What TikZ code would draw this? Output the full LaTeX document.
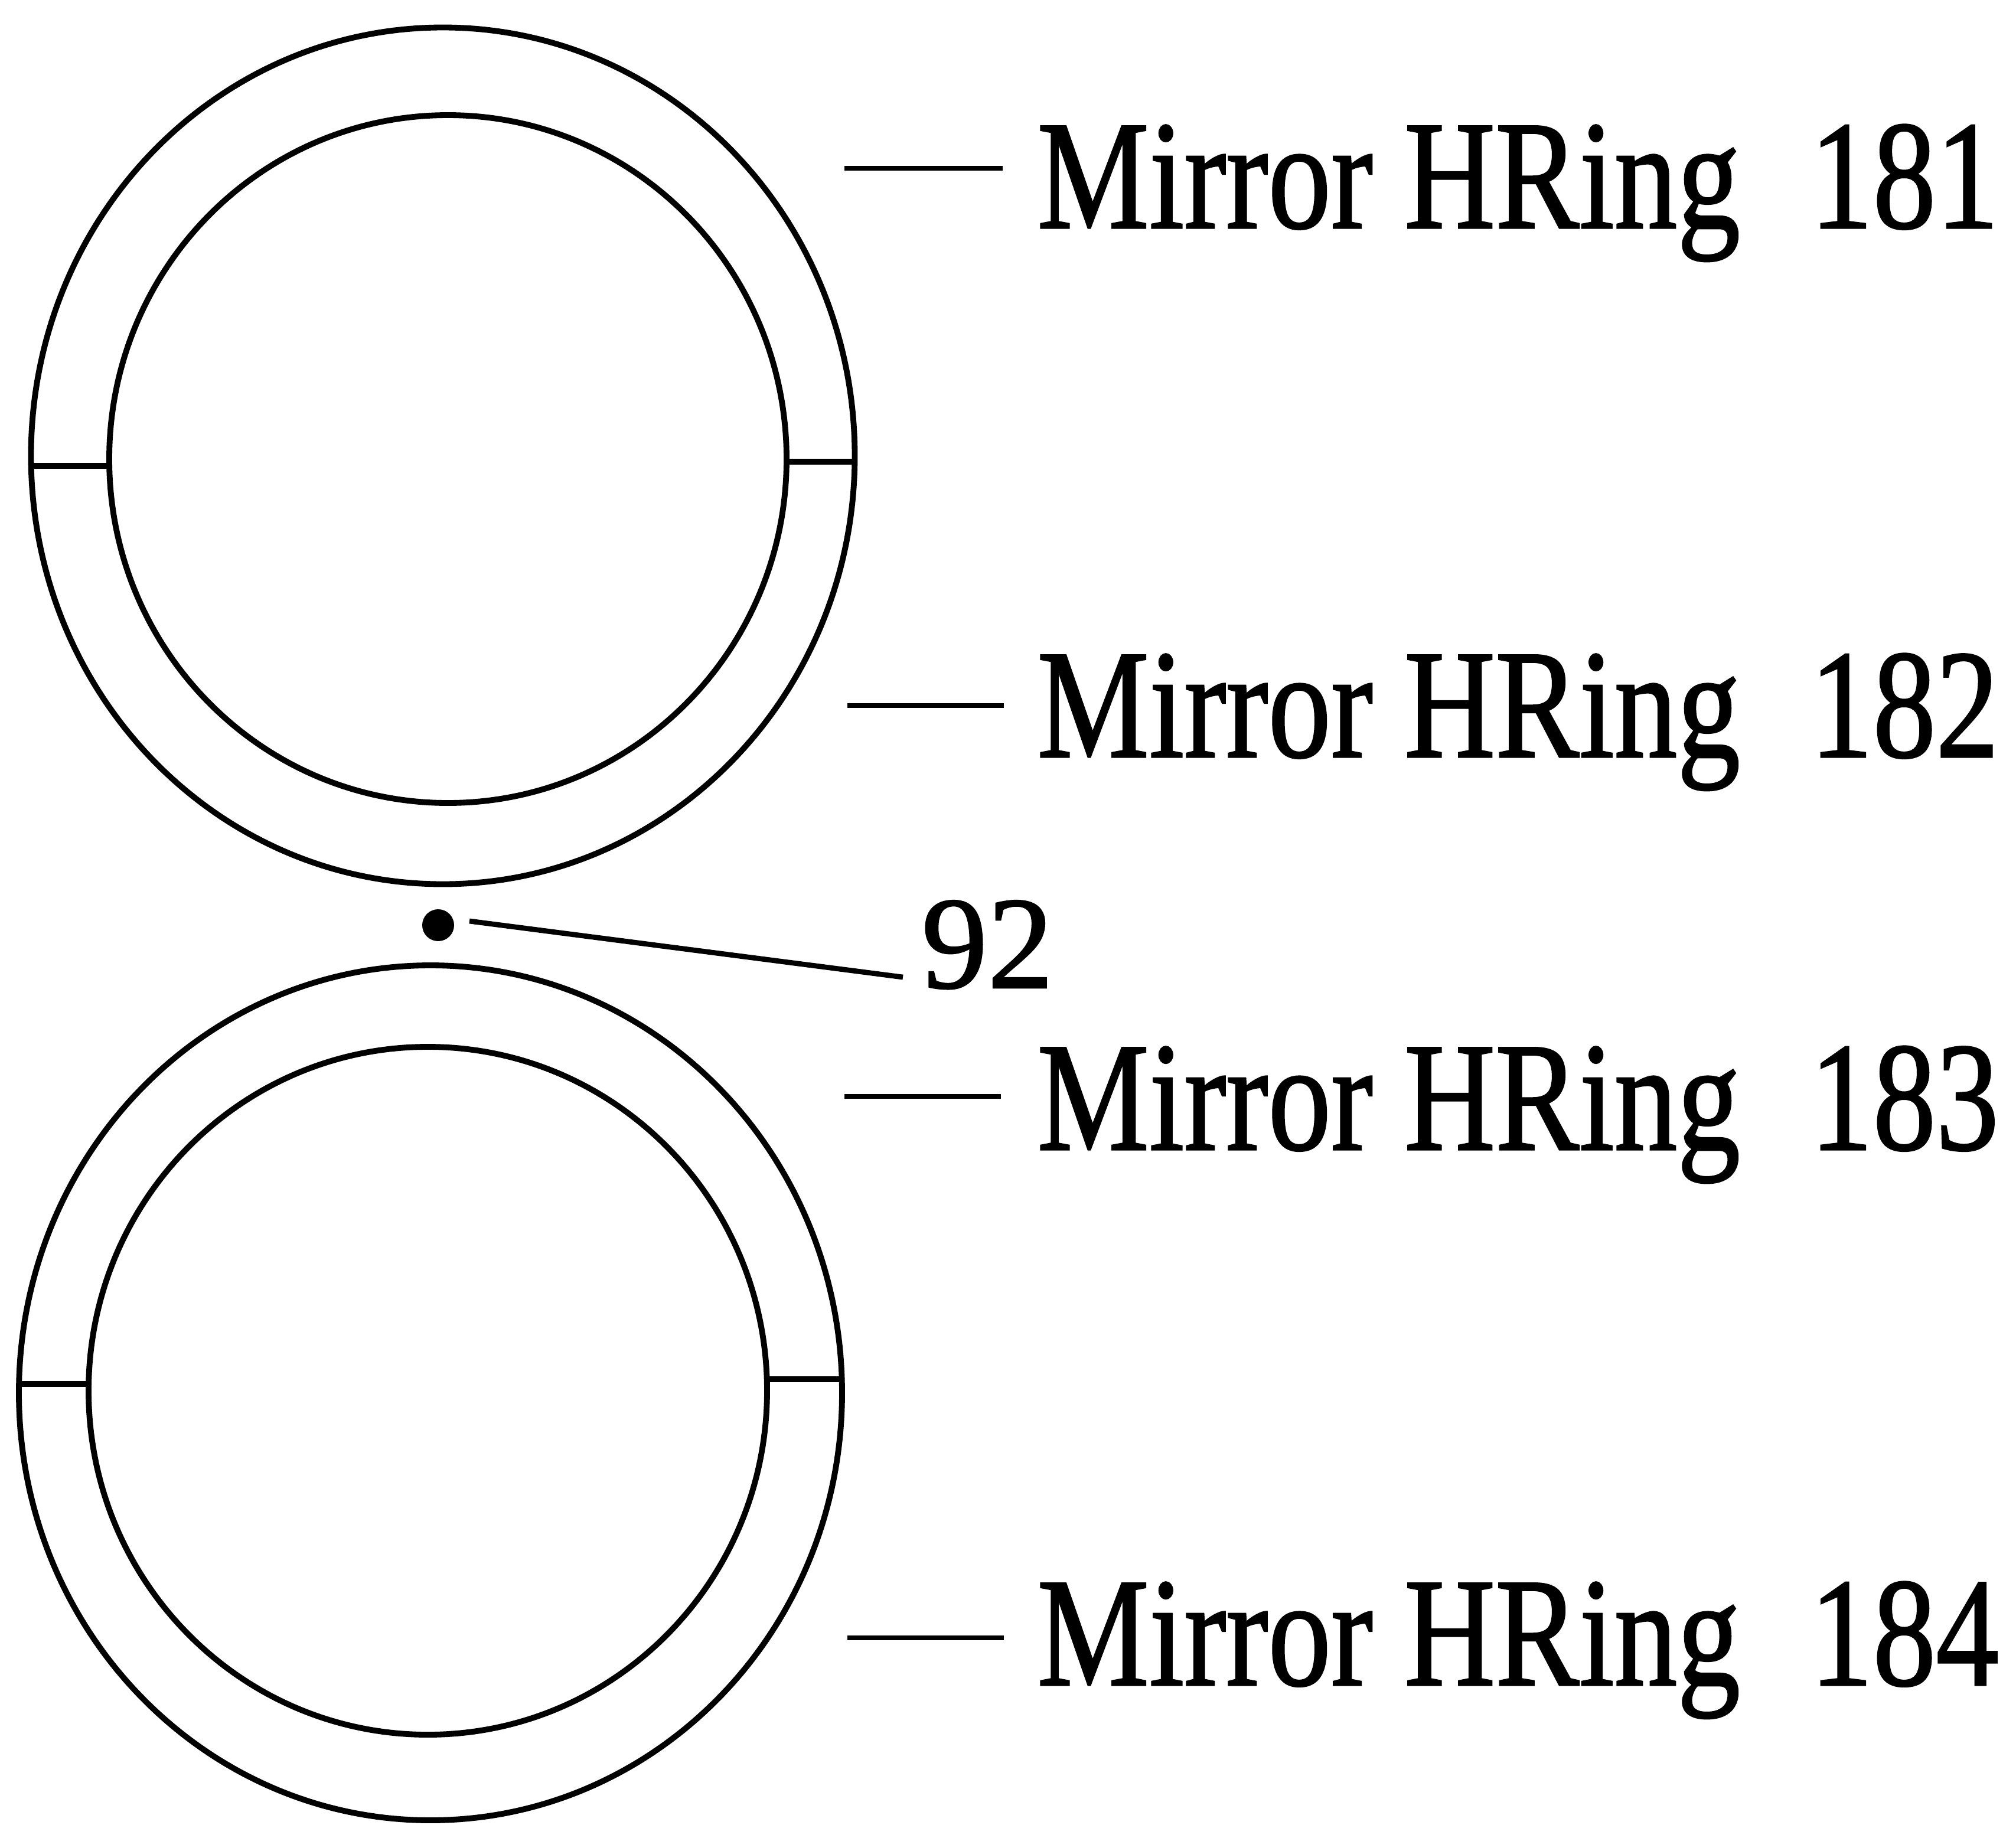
\documentclass[tikz,border=0pt]{standalone}
\usepackage{fontspec}
\setmainfont{Liberation Serif}
\newfontfamily\lblfont[FakeBold=1.2]{Liberation Serif}
\begin{document}
\begin{tikzpicture}[
  ringline/.style={line width=2.8pt},
  leader/.style={line width=2.5pt},
  ringlabel/.style={inner sep=0pt, anchor=base west, xscale=0.81, transform shape,
    font=\lblfont\fontsize{74.9pt}{80pt}\selectfont},
  reflabel/.style={inner sep=0pt, anchor=base west,
    font=\lblfont\fontsize{63.5pt}{70pt}\selectfont}
]
\useasboundingbox (0,0) rectangle (34.14,-30.91);

% top ring
\draw[ringline] (7.50,-7.72) ellipse [x radius=6.975, y radius=7.255];
\draw[ringline] (7.585,-7.775) ellipse [x radius=5.735, y radius=5.825];
\draw[ringline] (0.53,-7.89) -- (1.85,-7.89);
\draw[ringline] (13.32,-7.82) -- (14.48,-7.82);

% bottom ring
\draw[ringline] (7.29,-23.59) ellipse [x radius=6.97, y radius=7.24];
\draw[ringline] (7.245,-23.555) ellipse [x radius=5.745, y radius=5.825];
\draw[ringline] (0.32,-23.44) -- (1.50,-23.44);
\draw[ringline] (12.99,-23.36) -- (14.26,-23.36);

% point 92
\fill (7.42,-15.67) circle [radius=0.27];
\coordinate (p92a) at (7.95,-15.60);
\coordinate (p92b) at (15.29,-16.55);
\draw[leader] (p92a) -- (p92b);
\node[reflabel] (t92) at (15.60,-16.73) {92};

% labels
\coordinate (l1a) at (14.30,-2.85);  \coordinate (l1b) at (16.98,-2.85);
\coordinate (l2a) at (14.35,-11.95); \coordinate (l2b) at (17.00,-11.95);
\coordinate (l3a) at (14.30,-18.57); \coordinate (l3b) at (16.95,-18.57);
\coordinate (l4a) at (14.35,-27.74); \coordinate (l4b) at (17.00,-27.74);
\draw[leader] (l1a) -- (l1b);
\draw[leader] (l2a) -- (l2b);
\draw[leader] (l3a) -- (l3b);
\draw[leader] (l4a) -- (l4b);
\node[ringlabel] (r181) at (17.56,-3.86)  {Mirror HRing\hspace{1.46cm}181};
\node[ringlabel] (r182) at (17.56,-12.82) {Mirror HRing\hspace{1.46cm}182};
\node[ringlabel] (r183) at (17.56,-19.47) {Mirror HRing\hspace{1.46cm}183};
\node[ringlabel] (r184) at (17.56,-28.54) {Mirror HRing\hspace{1.46cm}184};
\end{tikzpicture}
\end{document}
